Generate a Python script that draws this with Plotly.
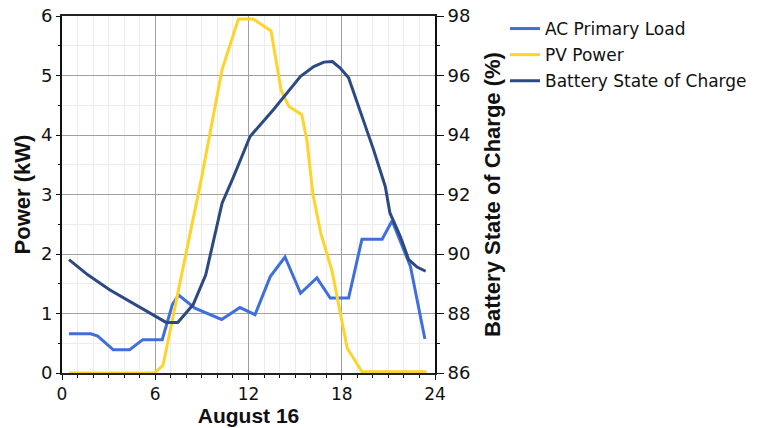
import plotly.graph_objects as go

# AC Primary Load (kW)
ac_hours = [0.45, 1.85, 2.3, 3.3, 4.35, 5.2, 6.45, 7.1, 7.5, 8.55, 10.27, 11.45, 12.42, 13.4, 14.35, 15.35, 16.4, 17.26, 18.44, 19.3, 20.6, 21.24, 22.42, 23.35]
ac_kw = [0.66, 0.66, 0.62, 0.39, 0.39, 0.56, 0.56, 1.15, 1.31, 1.09, 0.90, 1.10, 0.98, 1.62, 1.95, 1.34, 1.60, 1.26, 1.26, 2.25, 2.25, 2.56, 1.79, 0.57]

# PV Power (kW)
pv_hours = [0.45, 5.95, 6.5, 8.98, 10.3, 11.35, 12.3, 13.45, 14.1, 14.6, 15.43, 15.75, 16.15, 16.65, 17.37, 17.9, 18.35, 19.3, 23.45]
pv_kw = [0.0, 0.0, 0.13, 3.28, 5.1, 5.95, 5.95, 5.75, 4.75, 4.48, 4.34, 3.92, 3.0, 2.35, 1.72, 1.0, 0.42, 0.02, 0.02]

# Battery State of Charge (%)
soc_hours = [0.45, 1.66, 3.06, 4.57, 6.08, 6.7, 7.45, 8.44, 9.25, 9.73, 10.3, 11.0, 12.1, 13.6, 14.5, 15.35, 16.2, 16.85, 17.4, 17.9, 18.44, 19.3, 20.05, 20.8, 21.1, 21.77, 22.31, 22.85, 23.4]
soc_pct = [89.81, 89.3, 88.8, 88.35, 87.9, 87.7, 87.7, 88.3, 89.3, 90.37, 91.71, 92.55, 93.95, 94.85, 95.41, 95.97, 96.3, 96.45, 96.47, 96.25, 95.92, 94.63, 93.5, 92.27, 91.38, 90.59, 89.81, 89.56, 89.42]

x_ticks = [0, 6, 12, 18, 24]

REG = "DejaVu Sans"
BOLD = "Liberation Sans"

fig = go.Figure()
fig.add_trace(go.Scatter(x=ac_hours, y=ac_kw, mode="lines", name="AC Primary Load",
                         line=dict(color="#3f6fdc", width=3), legendgroup="a"))
fig.add_trace(go.Scatter(x=pv_hours, y=pv_kw, mode="lines", name="PV Power",
                         line=dict(color="#ffd42a", width=3), legendgroup="b"))
fig.add_trace(go.Scatter(x=soc_hours, y=soc_pct, mode="lines", name="Battery State of Charge",
                         line=dict(color="#2c4a82", width=3), yaxis="y2", legendgroup="c"))

fig.update_layout(
    width=778, height=428,
    margin=dict(l=62, r=343, t=16, b=55),
    plot_bgcolor="white", paper_bgcolor="white",
    font=dict(family=REG, size=18, color="#111"),
    showlegend=True,
    legend=dict(xref="container", yref="container", x=505/778, y=1-11/428,
                xanchor="left", yanchor="top", font=dict(family=REG, size=17, color="#111"),
                traceorder="grouped", tracegroupgap=1, bgcolor="rgba(0,0,0,0)", itemwidth=30),
    xaxis=dict(range=[0, 24], tickvals=x_ticks, ticktext=[str(v) for v in x_ticks],
               automargin=False, tickfont=dict(size=17),
               showgrid=True, gridcolor="#a0a0a0", gridwidth=1,
               minor=dict(dtick=1, showgrid=True, gridcolor="#ececec", ticks="outside", ticklen=3, tickcolor="#111"),
               ticks="outside", ticklen=5, tickcolor="#111",
               showline=True, linecolor="#222", linewidth=2, mirror=True, zeroline=False,
               title=dict(text="<b>August 16</b>", font=dict(family=BOLD, size=21, color="#111"), standoff=3)),
    yaxis=dict(range=[0, 6], dtick=1, showgrid=True, gridcolor="#a0a0a0", gridwidth=1,
               automargin=False,
               minor=dict(dtick=0.5, showgrid=True, gridcolor="#ececec", ticks="outside", ticklen=2, tickcolor="#111"),
               ticks="outside", ticklen=4, tickcolor="#111",
               showline=True, linecolor="#111", linewidth=2, zeroline=False,
               title=dict(text="<b>Power (kW)</b>", font=dict(family=BOLD, size=22, color="#111"), standoff=4)),
    yaxis2=dict(range=[86, 98], dtick=2, overlaying="y", side="right", showgrid=False,
                automargin=False,
                minor=dict(dtick=1, ticks="outside", ticklen=3, tickcolor="#111"),
                ticks="outside", ticklen=7, tickcolor="#111",
                showline=True, linecolor="#111", linewidth=2, zeroline=False,
                title=dict(text="<b>Battery State of Charge (%)</b>", font=dict(family=BOLD, size=22, color="#111"), standoff=16)),
)

fig.write_html("out.html")
